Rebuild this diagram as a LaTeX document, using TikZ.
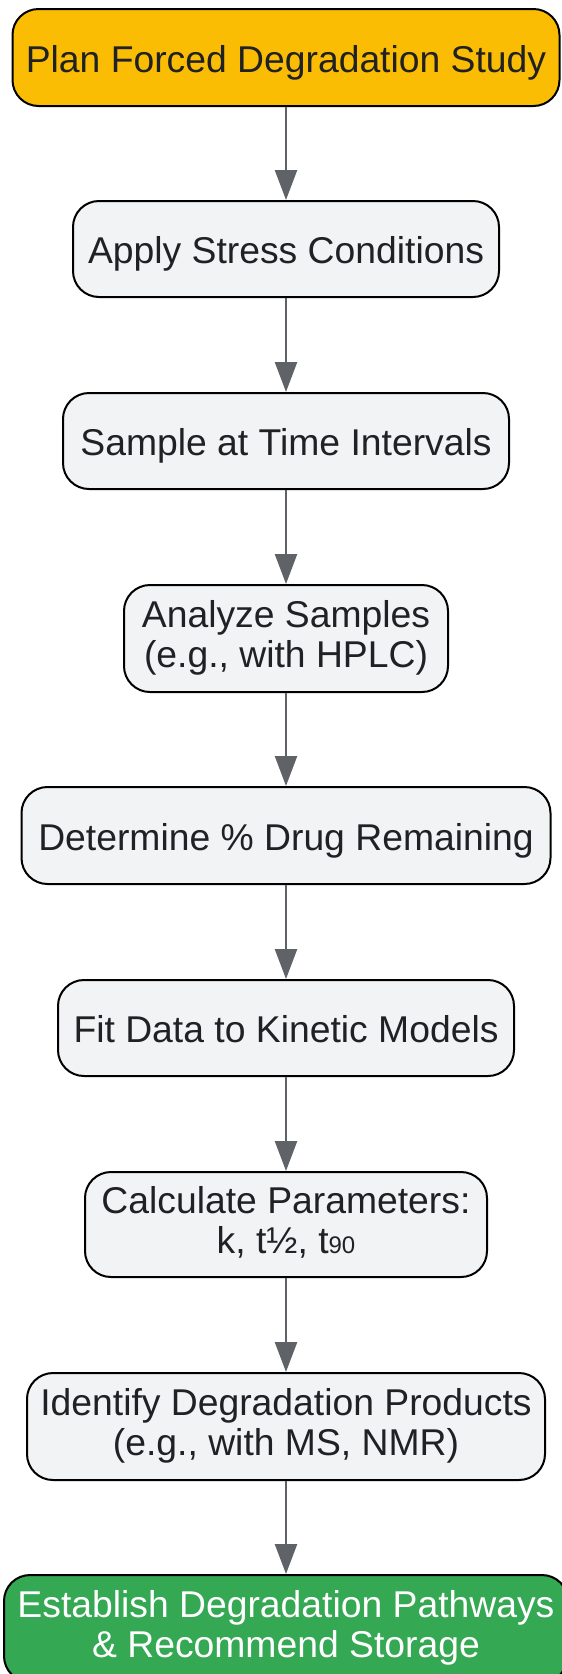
\documentclass[tikz,border=0pt]{standalone}
\usepackage{fontspec}
\setmainfont{Liberation Sans}
\usepackage{xcolor}
\usetikzlibrary{arrows.meta,positioning}

\definecolor{boxgray}{HTML}{F1F3F4}
\definecolor{startyellow}{HTML}{FBBC04}
\definecolor{endgreen}{HTML}{34A853}
\definecolor{textdark}{HTML}{202124}
\definecolor{arrowgray}{HTML}{5F6368}

\tikzset{
  box/.style={draw=black, line width=2pt, rounded corners=26pt, fill=boxgray,
    text=textdark, align=center, inner sep=0pt,
    font=\fontsize{37.3}{40}\selectfont,
    execute at begin node={\rule{0pt}{38pt}},
    execute at end node={\rule[-9pt]{0pt}{9pt}}},
  startbox/.style={box, fill=startyellow},
  endbox/.style={box, fill=endgreen, text=white},
  flow/.style={draw=arrowgray, line width=2.5pt, -{Triangle[length=30pt,width=22pt]}}
}

\begin{document}
\begin{tikzpicture}[x=1pt,y=1pt]
        \useasboundingbox (0,0) rectangle (562,-1674);

        % Study steps
        \node[startbox, minimum width=547pt, minimum height=97pt] (plan) at (286,-57.5) {Plan Forced Degradation Study};
        \node[box, minimum width=426pt, minimum height=96pt] (stress) at (286,-249) {Apply Stress Conditions};
        \node[box, minimum width=446pt, minimum height=96pt] (sample) at (286,-441) {Sample at Time Intervals};
        \node[box, minimum width=324pt, minimum height=107pt] (analyze) at (286,-638.5) {Analyze Samples\\(e.g., with HPLC)};
        \node[box, minimum width=529pt, minimum height=97pt] (remain) at (286,-835.5) {Determine \% Drug Remaining};
        \node[box, minimum width=456pt, minimum height=96pt] (fit) at (286,-1028) {Fit Data to Kinetic Models};
        \node[box, minimum width=402pt, minimum height=105pt] (params) at (286,-1224.5) {Calculate Parameters:\\k, t½, t{\fontsize{24}{24}\selectfont 90}};
        \node[box, minimum width=518pt, minimum height=107pt] (products) at (286,-1426.5) {Identify Degradation Products\\(e.g., with MS, NMR)};
        \node[endbox, minimum width=564pt, minimum height=107pt] (pathways) at (286,-1628.5) {Establish Degradation Pathways\\\& Recommend Storage};

        % Arrows
        \draw[flow] (plan) -- (stress);
        \draw[flow] (stress) -- (sample);
        \draw[flow] (sample) -- (analyze);
        \draw[flow] (analyze) -- (remain);
        \draw[flow] (remain) -- (fit);
        \draw[flow] (fit) -- (params);
        \draw[flow] (params) -- (products);
        \draw[flow] (products) -- (pathways);
    \end{tikzpicture}
\end{document}
